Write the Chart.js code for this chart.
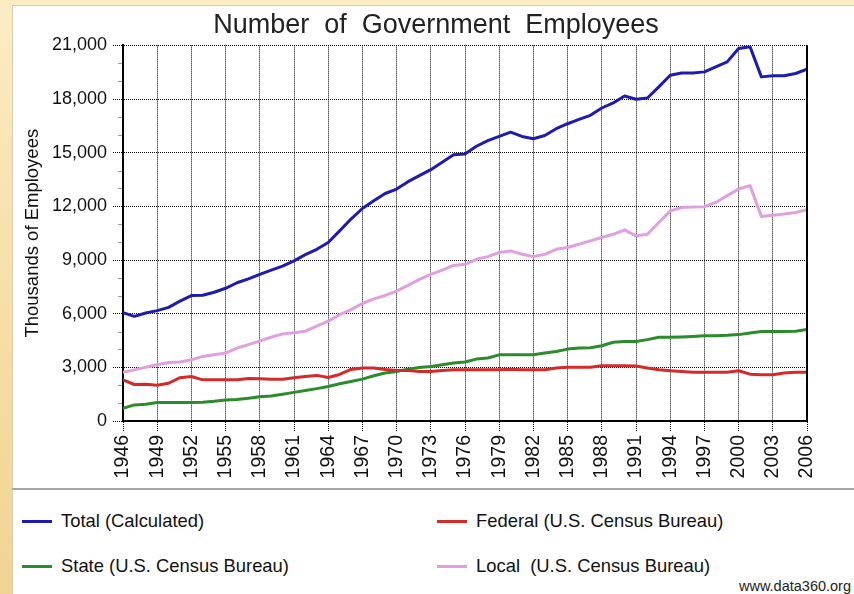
<!DOCTYPE html>
<html><head><meta charset="utf-8">
<script src="https://cdn.jsdelivr.net/npm/chart.js@4.4.1/dist/chart.umd.min.js"></script>
<style>
html,body{margin:0;padding:0;width:854px;height:594px;overflow:hidden;}
body{background:linear-gradient(180deg,#fbecc4 0%,#f6dfa8 50%,#f1d394 100%);font-family:"Liberation Sans",Arial,sans-serif;position:relative;}
#panel{position:absolute;left:12px;top:5px;width:842px;height:589px;background:#fff;border-left:1px solid #d6ccb8;border-top:1px solid #d6ccb8;box-sizing:border-box;}
#wrap{position:absolute;left:0;top:0;width:854px;height:488px;}
#sep{position:absolute;left:12px;top:488px;width:842px;height:2px;background:#a8a8a8;}
.leg{position:absolute;font-size:18.4px;color:#111;line-height:22px;display:flex;align-items:center;white-space:pre;}
.leg i{display:inline-block;width:30px;height:3px;margin-right:9px;}
#src{position:absolute;right:3px;top:578px;font-size:14.5px;color:#222;}
</style></head><body>
<div id="panel"></div>
<div id="wrap"><canvas id="c" width="854" height="488"></canvas></div>
<div id="sep"></div>
<div id="legend"></div>
<div id="src">www.data360.org</div>
<script>
const years = [1946,1947,1948,1949,1950,1951,1952,1953,1954,1955,1956,1957,1958,1959,1960,1961,1962,1963,1964,1965,1966,1967,1968,1969,1970,1971,1972,1973,1974,1975,1976,1977,1978,1979,1980,1981,1982,1983,1984,1985,1986,1987,1988,1989,1990,1991,1992,1993,1994,1995,1996,1997,1998,1999,2000,2001,2002,2003,2004,2005,2006];

const totalCalc = [6050,5850,6040,6170,6350,6700,7010,7030,7200,7420,7730,7950,8200,8440,8660,8950,9300,9600,9980,10630,11290,11880,12310,12720,12970,13380,13720,14050,14470,14880,14930,15360,15680,15910,16150,15910,15780,15960,16340,16620,16860,17090,17500,17780,18170,17990,18060,18680,19330,19460,19460,19520,19800,20080,20830,20930,19240,19300,19300,19430,19670];

const federal = [2300,2040,2060,2000,2110,2420,2490,2300,2300,2300,2300,2380,2360,2340,2340,2420,2490,2550,2430,2600,2880,2960,2960,2880,2830,2830,2770,2770,2830,2860,2860,2860,2860,2860,2900,2860,2860,2860,2960,3010,3010,3010,3090,3090,3090,3070,2960,2860,2810,2770,2730,2730,2730,2730,2810,2620,2580,2580,2680,2730,2730];

const stateEmp = [710,900,940,1030,1030,1040,1040,1050,1100,1180,1200,1270,1360,1400,1500,1600,1700,1810,1930,2080,2210,2340,2530,2680,2770,2900,2990,3050,3140,3240,3300,3460,3520,3700,3700,3700,3700,3800,3890,4020,4080,4100,4210,4400,4450,4450,4550,4680,4680,4700,4730,4770,4770,4790,4830,4920,5010,5010,5010,5020,5110];

const localEmp = [2730,2860,3010,3140,3270,3300,3420,3610,3700,3800,4080,4270,4470,4680,4870,4940,5020,5300,5580,5950,6230,6570,6830,7020,7260,7580,7920,8200,8440,8700,8760,9040,9190,9420,9510,9320,9190,9320,9600,9700,9880,10070,10260,10440,10690,10350,10440,11100,11750,11940,11960,11980,12220,12600,12970,13160,11440,11510,11570,11660,11810];

const seriesNames = ['Total (Calculated)','Federal (U.S. Census Bureau)','State (U.S. Census Bureau)','Local  (U.S. Census Bureau)'];
const seriesColors = ['#1c1cb0','#d42a2a','#2a8c2a','#e0a0e0'];
const seriesValues = [totalCalc, federal, stateEmp, localEmp];

const yTicks = [0,3000,6000,9000,12000,15000,18000,21000];

const FONT = '"Liberation Sans", Arial, sans-serif';
const toPts = arr => years.map((yr,i)=>({x:yr,y:arr[i]}));

const extraPlugin = {
  id:'extra',
  afterDraw(chart){
    const {ctx, chartArea:a, scales:{y}} = chart;
    ctx.save();
    ctx.strokeStyle = '#999'; ctx.lineWidth = 1;
    for(let v=1000; v<21000; v+=1000){
      if(v%3000===0) continue;
      const py = Math.round(y.getPixelForValue(v))+0.5;
      ctx.beginPath(); ctx.moveTo(a.left-5,py); ctx.lineTo(a.left-1,py); ctx.stroke();
    }
    ctx.strokeStyle='#000'; ctx.lineWidth=2;
    ctx.beginPath(); ctx.moveTo(a.right,a.top); ctx.lineTo(a.right,a.bottom+1); ctx.stroke();
    ctx.restore();
  }
};

const chart = new Chart(document.getElementById('c'), {
  type:'line',
  data:{
    datasets: seriesValues.map((vals,i)=>({
      label: seriesNames[i],
      data: toPts(vals),
      borderColor: seriesColors[i],
      backgroundColor: seriesColors[i],
      borderWidth: 3,
      pointRadius: 0,
      tension: 0,
      borderJoinStyle:'round',
      borderCapStyle:'round',
      fill:false,
      yAxisID:'y'
    }))
  },
  options:{
    responsive:false,
    animation:false,
    layout:{padding:{left:18,right:0,top:5,bottom:0}},
    plugins:{
      legend:{display:false},
      tooltip:{enabled:false},
      title:{display:true,text:'Number  of  Government  Employees',color:'#222',
        font:{family:FONT,size:27,weight:'normal'},
        padding:{top:4,bottom:4}}
    },
    scales:{
      x:{
        type:'linear', min:1946, max:2006,
        afterFit(s){ s.height = 67; },
        ticks:{stepSize:3, autoSkip:false, minRotation:90, maxRotation:90,
          callback:v=>String(v), color:'#111', padding:4,
          font:{family:FONT,size:19.5}},
        grid:{color:'#000', lineWidth:1, tickLength:10, tickColor:'#000', tickBorderDash:[1,1]},
        border:{display:true,color:'#000',width:2,dash:[1,1]}
      },
      y:{
        min:0, max:21000,
        afterFit(s){ s.width = 105; },
        afterBuildTicks(s){ s.ticks = yTicks.map(v=>({value:v})); },
        ticks:{color:'#111', padding:6,
          callback:v=>Number(v).toLocaleString('en-US'),
          font:{family:FONT,size:18}},
        grid:{color:'#000', lineWidth:1, tickLength:10, tickColor:'#000', tickBorderDash:[1,1]},
        border:{display:true,color:'#000',width:2,dash:[1,1]},
        title:{display:true,text:'Thousands of Employees',color:'#111',
          font:{family:FONT,size:18.5},
          padding:{top:4,bottom:4}}
      },
      yPad:{
        position:'right', display:true,
        afterFit(s){ s.width = 47; },
        ticks:{display:false},
        grid:{display:false, drawTicks:false},
        border:{display:false}
      }
    }
  },
  plugins:[extraPlugin]
});

// HTML legend built from the chart's datasets
const legendPos = [[22,510],[437,510],[22,555],[437,555]];
const lg = document.getElementById('legend');
chart.data.datasets.forEach((ds,i)=>{
  const d = document.createElement('div');
  d.className='leg';
  d.style.left = legendPos[i][0]+'px';
  d.style.top = legendPos[i][1]+'px';
  const sw = document.createElement('i');
  sw.style.background = ds.borderColor;
  d.appendChild(sw);
  d.appendChild(document.createTextNode(ds.label));
  lg.appendChild(d);
});
</script>
</body></html>
